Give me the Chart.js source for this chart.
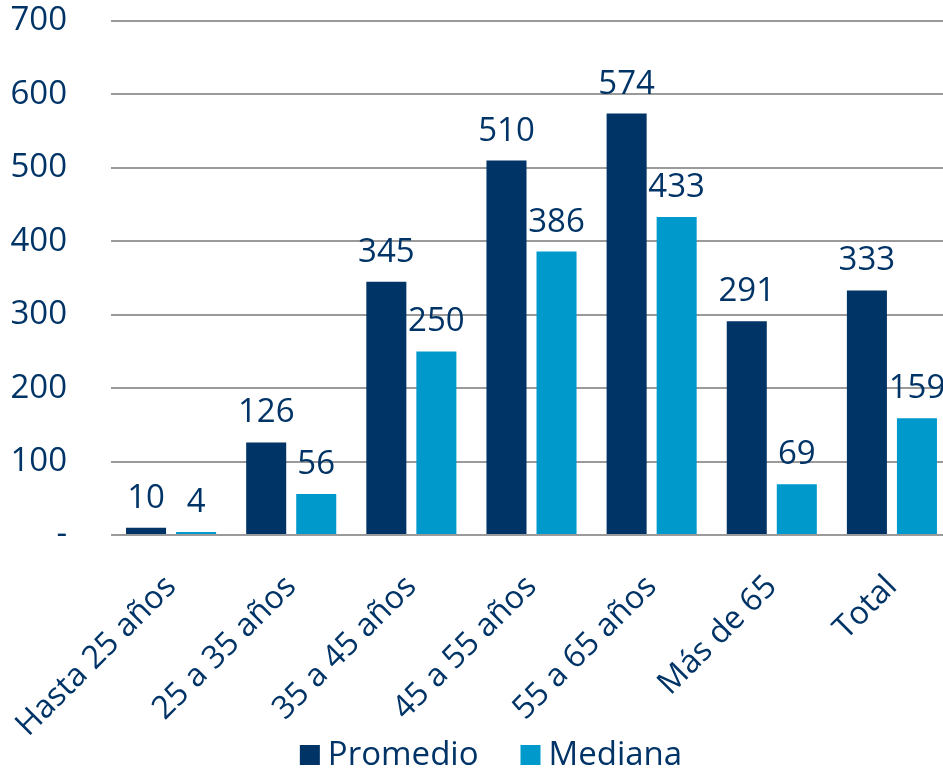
<!DOCTYPE html>
<html>
<head>
<meta charset="utf-8">
<script src="https://cdn.jsdelivr.net/npm/chart.js@4.4.1/dist/chart.umd.min.js"></script>
<style>
    html, body { margin: 0; padding: 0; background: #fff; overflow: hidden; }
    #wrap { width: 960px; height: 774px; }
</style>
</head>
<body>
<div id="wrap"><canvas id="barChart"></canvas></div>
<script>
const categories = ["Hasta 25 años", "25 a 35 años", "35 a 45 años", "45 a 55 años", "55 a 65 años", "Más de 65", "Total"];
const promedio = [10, 126, 345, 510, 574, 291, 333];
const mediana = [4, 56, 250, 386, 433, 69, 159];

const NAVY = "#003366";
const LIGHT = "#0099CC";
const FONT = "'Open Sans', 'Noto Sans', sans-serif";
const SIZE = 33;

// draw the value above every bar
const valueLabels = {
    id: "valueLabels",
    afterDatasetsDraw(chart) {
        const ctx = chart.ctx;
        ctx.save();
        ctx.font = SIZE + "px " + FONT;
        ctx.fillStyle = NAVY;
        ctx.textAlign = "center";
        ctx.textBaseline = "alphabetic";
        chart.data.datasets.forEach((ds, i) => {
            chart.getDatasetMeta(i).data.forEach((bar, j) => {
                ctx.fillText(String(ds.data[j]), bar.x, bar.y - 20);
            });
        });
        ctx.restore();
    },
};

// legend like the office one: small square, short gap, wide spacing
const bottomLegend = {
    id: "bottomLegend",
    afterDraw(chart) {
        const ctx = chart.ctx;
        const box = 20, gap = 8, spacing = 42;
        ctx.save();
        ctx.font = SIZE + "px " + FONT;
        ctx.textBaseline = "middle";
        const items = chart.data.datasets.map((ds) => ({
            text: ds.label,
            color: ds.backgroundColor,
            w: box + gap + ctx.measureText(ds.label).width,
        }));
        const total = items.reduce((s, it) => s + it.w, 0) + spacing * (items.length - 1);
        let x = 491 - total / 2;
        const y = 755;
        items.forEach((it) => {
            ctx.fillStyle = it.color;
            ctx.fillRect(x, y - box / 2, box, box);
            ctx.fillStyle = NAVY;
            ctx.fillText(it.text, x + box + gap, y + 1);
            x += it.w + spacing;
        });
        ctx.restore();
    },
};

new Chart(document.getElementById("barChart"), {
    type: "bar",
    data: {
        labels: categories,
        datasets: [
            { label: "Promedio", data: promedio, backgroundColor: NAVY },
            { label: "Mediana", data: mediana, backgroundColor: LIGHT },
        ],
    },
    options: {
        responsive: true,
        maintainAspectRatio: false,
        animation: false,
        categoryPercentage: 0.833,
        barPercentage: 0.8,
        layout: {
            padding: { left: 0, right: 8, top: 21, bottom: 39 },
        },
        scales: {
            x: {
                // invisible tick marks just push the labels down
                grid: { display: true, drawOnChartArea: false, color: "transparent", tickLength: 31 },
                border: { display: false },
                ticks: {
                    color: NAVY,
                    font: { family: FONT, size: 32 },
                    minRotation: 45,
                    maxRotation: 45,
                    padding: 2,
                },
                afterFit(scale) {
                    scale.height = 200;
                },
            },
            y: {
                min: 0,
                max: 700,
                border: { display: false },
                grid: { color: "#9a9a9a", lineWidth: 2, tickLength: 44, tickColor: "transparent" },
                ticks: {
                    stepSize: 100,
                    color: NAVY,
                    font: { family: FONT, size: SIZE },
                    padding: 0,
                    callback: (v) => (v === 0 ? "-" : v),
                },
                afterFit(scale) {
                    scale.width = 111;
                },
            },
        },
        plugins: {
            tooltip: { enabled: false },
            legend: { display: false },
        },
    },
    plugins: [valueLabels, bottomLegend],
});
</script>
</body>
</html>
